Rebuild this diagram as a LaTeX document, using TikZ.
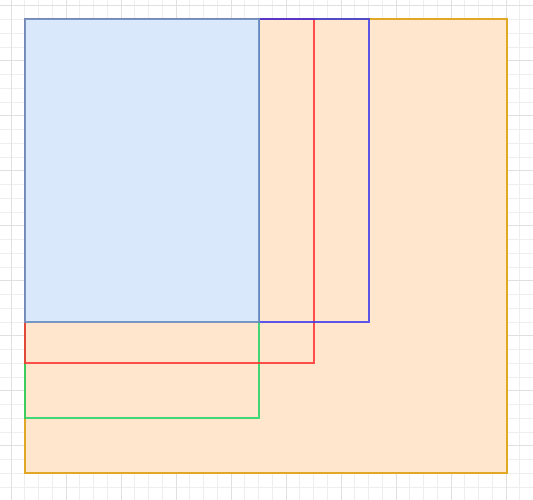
\documentclass[tikz,border=0pt]{standalone}
\usetikzlibrary{positioning}
\definecolor{gridminor}{HTML}{EEEEEE}
\definecolor{gridmajor}{HTML}{E0E0E0}
\definecolor{orfill}{HTML}{FFE6CC}
\definecolor{ordraw}{HTML}{E0A825}
\definecolor{blfill}{HTML}{DAE8FC}
\definecolor{bldraw}{HTML}{6C8EBF}
\definecolor{redline}{HTML}{FF3333}
\definecolor{purpline}{HTML}{3333EE}
\definecolor{greenline}{HTML}{22D466}
\tikzset{
  box/.style={rectangle, inner sep=0pt, outer sep=0pt, anchor=north west, line width=1.8pt},
}
\begin{document}
\begin{tikzpicture}[x=1pt,y=-1pt]
\useasboundingbox (0,0) rectangle (533,500);
% grid
\foreach \i in {0,...,39} {
  \draw[gridminor, line width=0.8pt] ({11+\i*13.75-13.75},0) -- ({11+\i*13.75-13.75},500);
  \draw[gridminor, line width=0.8pt] (0,{5.7+\i*13.75}) -- (533,{5.7+\i*13.75});
}
\foreach \i in {0,...,9} {
  \draw[gridmajor, line width=1pt] ({11+\i*55},0) -- ({11+\i*55},500);
  \draw[gridmajor, line width=1pt] (0,{5.7+\i*55}) -- (533,{5.7+\i*55});
}
\node[box, draw=ordraw, fill=orfill, minimum width=482pt, minimum height=454pt] (orange) at (24.7,19.3) {};
\node[box, draw=greenline, draw opacity=0.85, minimum width=234pt, minimum height=399pt] (green) at (24.7,19.3) {};
\node[box, draw=redline, draw opacity=0.85, minimum width=289.3pt, minimum height=344pt] (red) at (24.7,19.3) {};
\node[box, draw=purpline, draw opacity=0.8, minimum width=110pt, minimum height=303pt] (purple) at (258.7,19.3) {};
\node[box, draw=bldraw, draw opacity=0.9, fill=blfill, minimum width=234pt, minimum height=303pt] (blue) at (24.7,19.3) {};
\end{tikzpicture}
\end{document}
